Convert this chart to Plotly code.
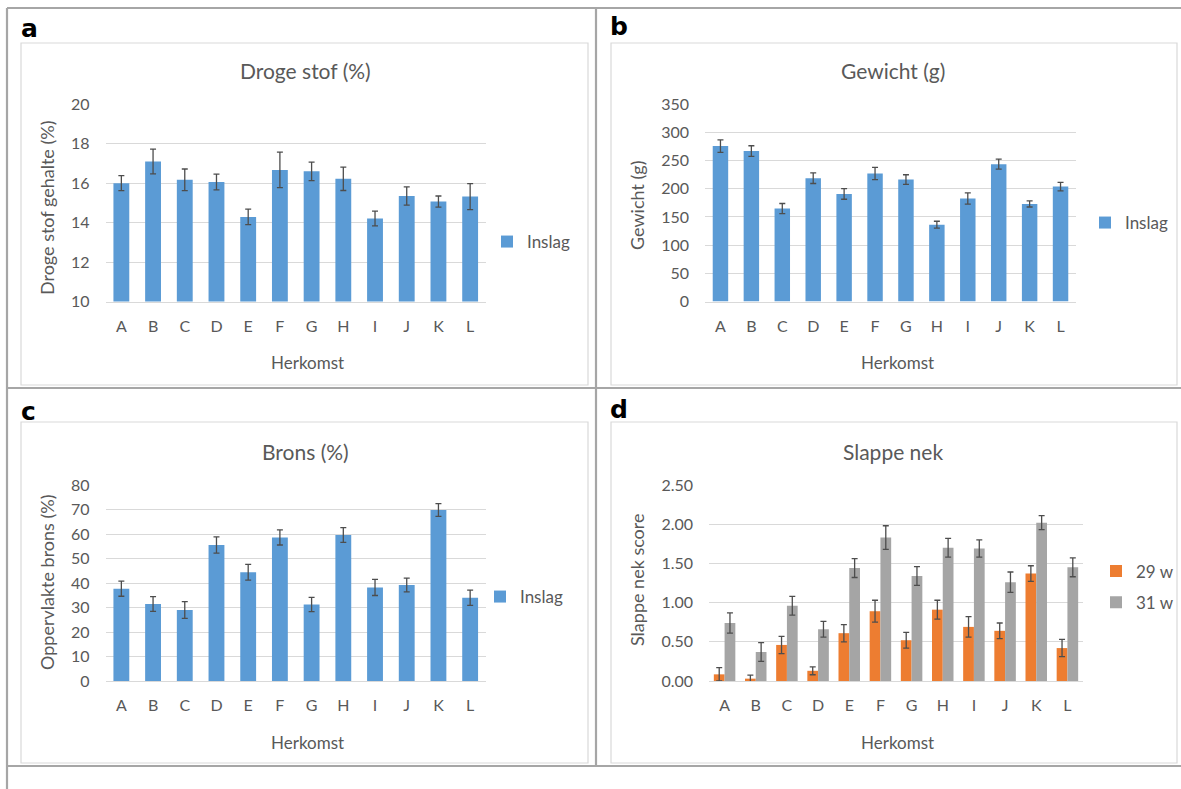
import plotly.graph_objects as go

# ---------------- data ----------------
herkomst = ["A", "B", "C", "D", "E", "F", "G", "H", "I", "J", "K", "L"]

droge_stof = [16.0, 17.1, 16.17, 16.06, 14.29, 16.67, 16.6, 16.22, 14.21, 15.35, 15.07, 15.32]
droge_stof_err = [0.38, 0.63, 0.55, 0.40, 0.39, 0.90, 0.47, 0.59, 0.37, 0.46, 0.28, 0.66]

gewicht = [275.8, 266.9, 164.9, 218.9, 191.0, 227.2, 216.5, 136.4, 182.7, 243.8, 173.2, 204.0]
gewicht_err = [11.0, 9.5, 9.0, 9.5, 9.5, 11.0, 8.5, 6.0, 10.0, 9.0, 5.5, 7.5]

brons = [37.7, 31.4, 29.0, 55.5, 44.4, 58.6, 31.2, 59.6, 38.2, 39.2, 69.8, 34.0]
brons_err = [3.1, 3.0, 3.4, 3.3, 3.2, 3.1, 2.9, 3.0, 3.3, 2.8, 2.6, 3.1]

nek_29w = [0.085, 0.03, 0.46, 0.13, 0.61, 0.89, 0.52, 0.91, 0.69, 0.64, 1.37, 0.42]
nek_29w_err = [0.085, 0.045, 0.11, 0.05, 0.11, 0.14, 0.10, 0.12, 0.13, 0.10, 0.10, 0.11]
nek_31w = [0.74, 0.37, 0.96, 0.66, 1.44, 1.83, 1.34, 1.70, 1.69, 1.26, 2.02, 1.45]
nek_31w_err = [0.13, 0.12, 0.12, 0.10, 0.12, 0.15, 0.12, 0.12, 0.11, 0.13, 0.09, 0.12]

# ---------------- styling ----------------
W, H = 1181, 789
FONT = "Lato, 'Open Sans', sans-serif"
TXT = "#595959"
GRID = "#D9D9D9"
BLUE = "#5B9BD5"
ORANGE = "#ED7D31"
GRAY = "#A5A5A5"
ERR = "#4D4D4D"
BORDER = "#A6A6A6"


def px(x):
    return x / W


def py(y):
    return 1 - y / H


def err(arr):
    return dict(type="data", array=arr, visible=True, color=ERR, thickness=1.3, width=3)


fig = go.Figure()

fig.add_trace(go.Bar(x=herkomst, y=droge_stof, error_y=err(droge_stof_err), name="Inslag",
                     marker=dict(color=BLUE, line=dict(width=0)), width=0.5,
                     xaxis="x", yaxis="y", legend="legend"))
fig.add_trace(go.Bar(x=herkomst, y=gewicht, error_y=err(gewicht_err), name="Inslag",
                     marker=dict(color=BLUE, line=dict(width=0)), width=0.5,
                     xaxis="x2", yaxis="y2", legend="legend2"))
fig.add_trace(go.Bar(x=herkomst, y=brons, error_y=err(brons_err), name="Inslag",
                     marker=dict(color=BLUE, line=dict(width=0)), width=0.5,
                     xaxis="x3", yaxis="y3", legend="legend3"))
fig.add_trace(go.Bar(x=herkomst, y=nek_29w, error_y=err(nek_29w_err), name="29 w",
                     marker=dict(color=ORANGE, line=dict(width=0)), legendgroup="g1",
                     xaxis="x4", yaxis="y4", legend="legend4"))
fig.add_trace(go.Bar(x=herkomst, y=nek_31w, error_y=err(nek_31w_err), name="31 w",
                     marker=dict(color=GRAY, line=dict(width=0)), legendgroup="g2",
                     xaxis="x4", yaxis="y4", legend="legend4"))

tickfont = dict(family=FONT, size=16, color=TXT)


def xax(x0, x1, anchor):
    return dict(domain=[px(x0), px(x1)], anchor=anchor, type="category",
                showgrid=False, showline=True, linecolor=GRID, linewidth=1,
                ticks="", tickfont=tickfont, ticklabelstandoff=10, zeroline=False,
                fixedrange=True)


def yax(y_top, y_bot, anchor, rng, dtick, fmt=None):
    d = dict(domain=[py(y_bot), py(y_top)], anchor=anchor, range=rng, dtick=dtick,
             showgrid=True, gridcolor=GRID, gridwidth=1, showline=False, zeroline=False,
             ticks="", tickfont=tickfont, ticklabelstandoff=15, fixedrange=True)
    if fmt:
        d["tickformat"] = fmt
    return d


TOP = (104.3, 301.5)
BOT = (485.0, 681.0)

fig.update_layout(
    xaxis=xax(105.5, 486, "y"),
    yaxis=yax(TOP[0], TOP[1], "x", [10, 20], 2),
    xaxis2=xax(705, 1076, "y2"),
    yaxis2=yax(TOP[0], TOP[1], "x2", [0, 350], 50),
    xaxis3=xax(105.5, 486, "y3"),
    yaxis3=yax(BOT[0], BOT[1], "x3", [0, 80], 10),
    xaxis4=xax(709, 1083, "y4"),
    yaxis4=yax(BOT[0], BOT[1], "x4", [0, 2.5], 0.5, ".2f"),
    barmode="group",
    bargap=0.31,
    bargroupgap=0,
)

legfont = dict(family=FONT, size=17, color=TXT)
fig.update_layout(
    showlegend=True,
    legend=dict(x=px(487), y=py(242), xanchor="left", yanchor="middle", font=legfont,
                bgcolor="rgba(0,0,0,0)", borderwidth=0),
    legend2=dict(x=px(1085), y=py(223), xanchor="left", yanchor="middle", font=legfont,
                 bgcolor="rgba(0,0,0,0)", borderwidth=0),
    legend3=dict(x=px(480), y=py(597), xanchor="left", yanchor="middle", font=legfont,
                 bgcolor="rgba(0,0,0,0)", borderwidth=0),
    legend4=dict(x=px(1096), y=py(587), xanchor="left", yanchor="middle", font=legfont,
                 bgcolor="rgba(0,0,0,0)", borderwidth=0, tracegroupgap=6),
)

# ---------------- frames and table borders ----------------
shapes = []
for (x0, y0, x1, y1) in [(21, 43, 588, 385), (611, 43, 1177, 385),
                         (21, 422, 588, 763), (611, 422, 1177, 763)]:
    shapes.append(dict(type="rect", xref="paper", yref="paper",
                       x0=px(x0), x1=px(x1), y0=py(y1), y1=py(y0),
                       line=dict(color=GRID, width=1.2), fillcolor="rgba(0,0,0,0)", layer="below"))
for (x0, y0, x1, y1) in [(7, 8, 1181, 8), (7, 8, 7, 789), (596, 8, 596, 766),
                         (7, 388, 1181, 388), (7, 766, 1181, 766)]:
    shapes.append(dict(type="line", xref="paper", yref="paper",
                       x0=px(x0), x1=px(x1), y0=py(y0), y1=py(y1),
                       line=dict(color=BORDER, width=2.2)))
fig.update_layout(shapes=shapes)

# ---------------- text ----------------
ann = []


def text(x, y, s, size, rot=0, color=TXT, family=FONT, xanchor="center", bold=False):
    if bold:
        s = "<b>" + s + "</b>"
    ann.append(dict(x=px(x), y=py(y), xref="paper", yref="paper", text=s, showarrow=False,
                    xanchor=xanchor, yanchor="middle", textangle=rot,
                    font=dict(family=family, size=size, color=color)))


# panel letters
for (x, y, s) in [(19, 28, "a"), (608, 27, "b"), (19, 411, "c"), (608, 409, "d")]:
    text(x, y, s, 25, color="#000000", family="'DejaVu Sans', Verdana, sans-serif",
         xanchor="left", bold=True)

# chart titles
text(305, 71, "Droge stof (%)", 21)
text(893, 71, "Gewicht (g)", 21)
text(305, 451, "Brons (%)", 21)
text(893, 451, "Slappe nek", 21)

# x-axis titles
text(307, 362, "Herkomst", 17)
text(897, 362, "Herkomst", 17)
text(307, 742, "Herkomst", 17)
text(897, 742, "Herkomst", 17)

# y-axis titles
text(47, 208, "Droge stof gehalte (%)", 18, rot=-90)
text(637, 206, "Gewicht (g)", 18, rot=-90)
text(47, 582, "Oppervlakte brons (%)", 18, rot=-90)
text(637, 580, "Slappe nek score", 18, rot=-90)

fig.update_layout(annotations=ann)

fig.update_layout(
    width=W, height=H,
    margin=dict(l=0, r=0, t=0, b=0, pad=0, autoexpand=False),
    paper_bgcolor="white", plot_bgcolor="white",
    font=dict(family=FONT, color=TXT),
)

fig.write_html("out.html", config={"displayModeBar": False},
               post_script="document.body.style.margin='0';document.body.style.overflow='hidden';")
